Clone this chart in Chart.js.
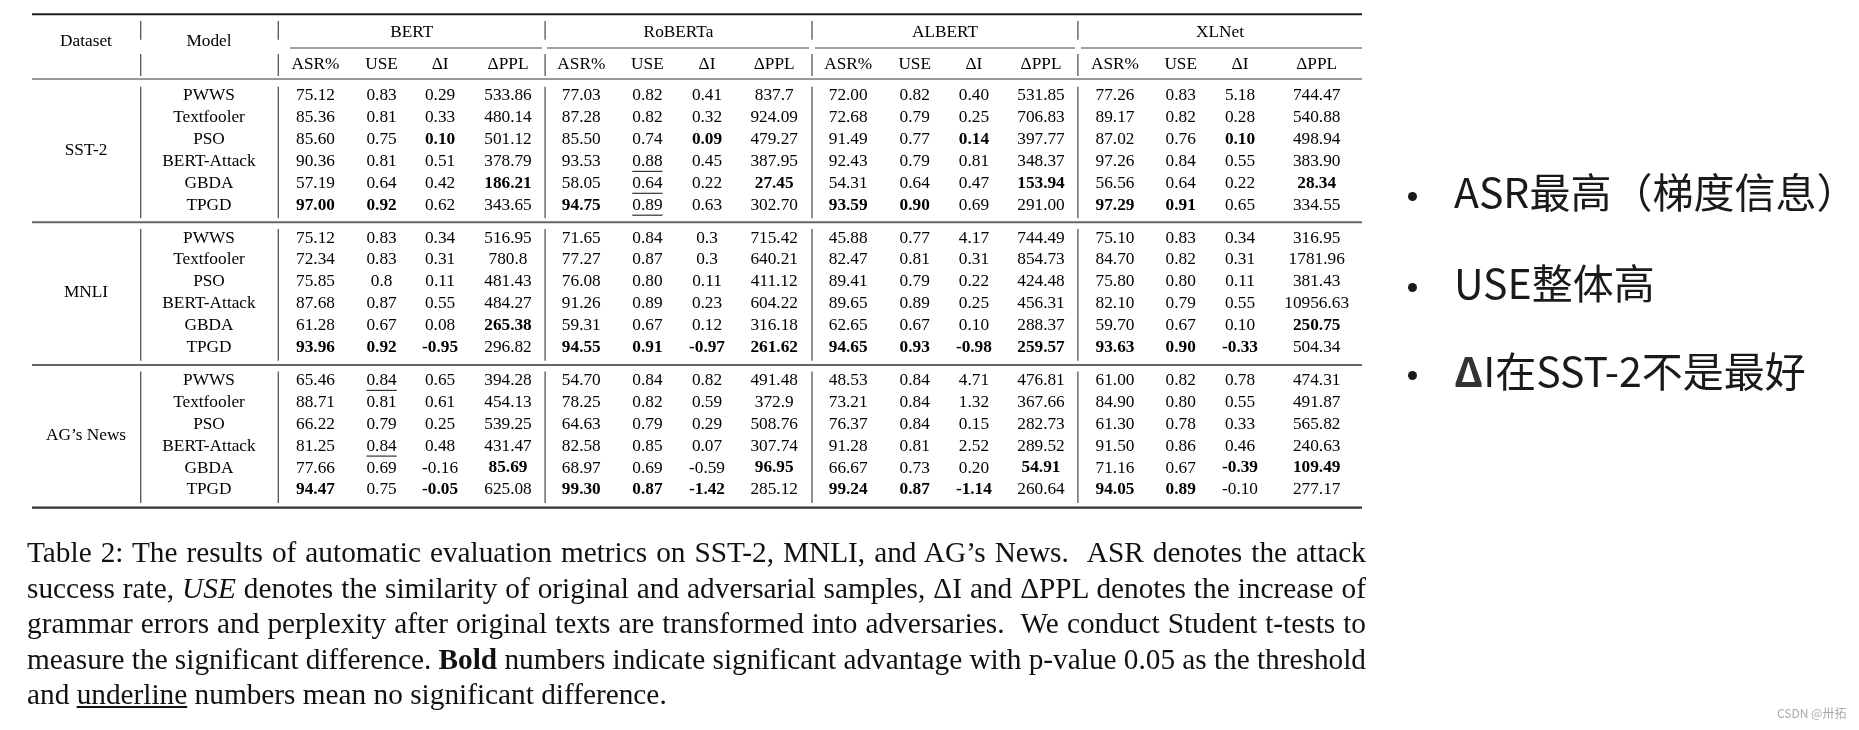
<!DOCTYPE html>
<html lang="en">
<head>
  <meta charset="UTF-8">
  <title>Table 2: automatic evaluation metrics</title>
  <script src="https://cdn.jsdelivr.net/npm/chart.js@4.4.1/dist/chart.umd.min.js"></script>
  <style>
    body { margin: 0; background: #fff; }
    #wrap { position: relative; width: 1859px; height: 730px; overflow: hidden; }
    #tableChart { position: absolute; left: 0; top: 0; }
    .caption {
      position: absolute; left: 27px; top: 535px; width: 1339px;
      font-family: "Liberation Serif", "Times New Roman", serif;
      font-size: 29.3px; line-height: 35.6px; color: #111;
    }
    .caption div { white-space: nowrap; height: 35.6px; }
    .note {
      position: absolute; left: 1454px; white-space: nowrap;
      font-family: "Noto Sans CJK SC", sans-serif; font-size: 41px; line-height: 41px; color: #1a1a1a;
    }
    .note b { color: #333; }
    .dot { position: absolute; left: 1408px; width: 9px; height: 9px; border-radius: 50%; background: #1a1a1a; }
    .mark {
      position: absolute; left: 1777px; top: 705px; white-space: nowrap;
      font-family: "Noto Sans CJK SC", sans-serif; font-size: 12px; line-height: 16px; color: #aaa;
    }
  </style>
</head>
<body>
<div id="wrap">
  <canvas id="tableChart" width="1859" height="730"></canvas>

  <div class="caption">
    <div class="just"><span>Table 2: The results of automatic evaluation metrics on SST-2, MNLI, and AG’s News. &nbsp;ASR denotes the attack</span></div>
    <div class="just"><span>success rate, <i>USE</i> denotes the similarity of original and adversarial samples, ΔI and ΔPPL denotes the increase of</span></div>
    <div class="just"><span>grammar errors and perplexity after original texts are transformed into adversaries. &nbsp;We conduct Student t-tests to</span></div>
    <div class="just"><span>measure the significant difference. <b>Bold</b> numbers indicate significant advantage with p-value 0.05 as the threshold</span></div>
    <div><span>and <u>underline</u> numbers mean no significant difference.</span></div>
  </div>

  <div class="dot" style="top:192px"></div>
  <div class="note" style="top:170px">ASR最高（梯度信息）</div>
  <div class="dot" style="top:283px"></div>
  <div class="note" style="top:261px">USE整体高</div>
  <div class="dot" style="top:371px"></div>
  <div class="note" style="top:349px"><b>Δ</b>I在SST-2不是最好</div>

  <div class="mark">CSDN @卅拓</div>
</div>

<script>
  // categories
  const datasetNames = ['SST-2', 'MNLI', 'AG’s News'];
  const models = ['PWWS', 'Textfooler', 'PSO', 'BERT-Attack', 'GBDA', 'TPGD'];
  const victims = ['BERT', 'RoBERTa', 'ALBERT', 'XLNet'];
  const metrics = ['ASR%', 'USE', 'ΔI', 'ΔPPL'];

  // values, one row per attack model: ASR%, USE, ΔI, ΔPPL (kept as printed)
  const sst2Bert    = [['75.12','0.83','0.29','533.86'], ['85.36','0.81','0.33','480.14'], ['85.60','0.75','0.10','501.12'],
                       ['90.36','0.81','0.51','378.79'], ['57.19','0.64','0.42','186.21'], ['97.00','0.92','0.62','343.65']];
  const sst2Roberta = [['77.03','0.82','0.41','837.7'],  ['87.28','0.82','0.32','924.09'], ['85.50','0.74','0.09','479.27'],
                       ['93.53','0.88','0.45','387.95'], ['58.05','0.64','0.22','27.45'],  ['94.75','0.89','0.63','302.70']];
  const sst2Albert  = [['72.00','0.82','0.40','531.85'], ['72.68','0.79','0.25','706.83'], ['91.49','0.77','0.14','397.77'],
                       ['92.43','0.79','0.81','348.37'], ['54.31','0.64','0.47','153.94'], ['93.59','0.90','0.69','291.00']];
  const sst2Xlnet   = [['77.26','0.83','5.18','744.47'], ['89.17','0.82','0.28','540.88'], ['87.02','0.76','0.10','498.94'],
                       ['97.26','0.84','0.55','383.90'], ['56.56','0.64','0.22','28.34'],  ['97.29','0.91','0.65','334.55']];

  const mnliBert    = [['75.12','0.83','0.34','516.95'], ['72.34','0.83','0.31','780.8'],  ['75.85','0.8','0.11','481.43'],
                       ['87.68','0.87','0.55','484.27'], ['61.28','0.67','0.08','265.38'], ['93.96','0.92','-0.95','296.82']];
  const mnliRoberta = [['71.65','0.84','0.3','715.42'],  ['77.27','0.87','0.3','640.21'],  ['76.08','0.80','0.11','411.12'],
                       ['91.26','0.89','0.23','604.22'], ['59.31','0.67','0.12','316.18'], ['94.55','0.91','-0.97','261.62']];
  const mnliAlbert  = [['45.88','0.77','4.17','744.49'], ['82.47','0.81','0.31','854.73'], ['89.41','0.79','0.22','424.48'],
                       ['89.65','0.89','0.25','456.31'], ['62.65','0.67','0.10','288.37'], ['94.65','0.93','-0.98','259.57']];
  const mnliXlnet   = [['75.10','0.83','0.34','316.95'], ['84.70','0.82','0.31','1781.96'], ['75.80','0.80','0.11','381.43'],
                       ['82.10','0.79','0.55','10956.63'], ['59.70','0.67','0.10','250.75'], ['93.63','0.90','-0.33','504.34']];

  const agBert      = [['65.46','0.84','0.65','394.28'], ['88.71','0.81','0.61','454.13'], ['66.22','0.79','0.25','539.25'],
                       ['81.25','0.84','0.48','431.47'], ['77.66','0.69','-0.16','85.69'], ['94.47','0.75','-0.05','625.08']];
  const agRoberta   = [['54.70','0.84','0.82','491.48'], ['78.25','0.82','0.59','372.9'],  ['64.63','0.79','0.29','508.76'],
                       ['82.58','0.85','0.07','307.74'], ['68.97','0.69','-0.59','96.95'], ['99.30','0.87','-1.42','285.12']];
  const agAlbert    = [['48.53','0.84','4.71','476.81'], ['73.21','0.84','1.32','367.66'], ['76.37','0.84','0.15','282.73'],
                       ['91.28','0.81','2.52','289.52'], ['66.67','0.73','0.20','54.91'],  ['99.24','0.87','-1.14','260.64']];
  const agXlnet     = [['61.00','0.82','0.78','474.31'], ['84.90','0.80','0.55','491.87'], ['61.30','0.78','0.33','565.82'],
                       ['91.50','0.86','0.46','240.63'], ['71.16','0.67','-0.39','109.49'], ['94.05','0.89','-0.10','277.17']];

  // significance marks: dataset|victim|model|metric
  const boldCells = [
    'SST-2|BERT|PSO|ΔI', 'SST-2|BERT|GBDA|ΔPPL', 'SST-2|BERT|TPGD|ASR%', 'SST-2|BERT|TPGD|USE',
    'SST-2|RoBERTa|PSO|ΔI', 'SST-2|RoBERTa|GBDA|ΔPPL', 'SST-2|RoBERTa|TPGD|ASR%',
    'SST-2|ALBERT|PSO|ΔI', 'SST-2|ALBERT|GBDA|ΔPPL', 'SST-2|ALBERT|TPGD|ASR%', 'SST-2|ALBERT|TPGD|USE',
    'SST-2|XLNet|PSO|ΔI', 'SST-2|XLNet|GBDA|ΔPPL', 'SST-2|XLNet|TPGD|ASR%', 'SST-2|XLNet|TPGD|USE',
    'MNLI|BERT|GBDA|ΔPPL', 'MNLI|BERT|TPGD|ASR%', 'MNLI|BERT|TPGD|USE', 'MNLI|BERT|TPGD|ΔI',
    'MNLI|RoBERTa|TPGD|ASR%', 'MNLI|RoBERTa|TPGD|USE', 'MNLI|RoBERTa|TPGD|ΔI', 'MNLI|RoBERTa|TPGD|ΔPPL',
    'MNLI|ALBERT|TPGD|ASR%', 'MNLI|ALBERT|TPGD|USE', 'MNLI|ALBERT|TPGD|ΔI', 'MNLI|ALBERT|TPGD|ΔPPL',
    'MNLI|XLNet|GBDA|ΔPPL', 'MNLI|XLNet|TPGD|ASR%', 'MNLI|XLNet|TPGD|USE', 'MNLI|XLNet|TPGD|ΔI',
    'AG’s News|BERT|GBDA|ΔPPL', 'AG’s News|BERT|TPGD|ASR%', 'AG’s News|BERT|TPGD|ΔI',
    'AG’s News|RoBERTa|GBDA|ΔPPL', 'AG’s News|RoBERTa|TPGD|ASR%', 'AG’s News|RoBERTa|TPGD|USE', 'AG’s News|RoBERTa|TPGD|ΔI',
    'AG’s News|ALBERT|GBDA|ΔPPL', 'AG’s News|ALBERT|TPGD|ASR%', 'AG’s News|ALBERT|TPGD|USE', 'AG’s News|ALBERT|TPGD|ΔI',
    'AG’s News|XLNet|GBDA|ΔI', 'AG’s News|XLNet|GBDA|ΔPPL', 'AG’s News|XLNet|TPGD|ASR%', 'AG’s News|XLNet|TPGD|USE'
  ];
  const underlineCells = [
    'SST-2|RoBERTa|BERT-Attack|USE', 'SST-2|RoBERTa|GBDA|USE', 'SST-2|RoBERTa|TPGD|USE',
    'AG’s News|BERT|PWWS|USE', 'AG’s News|BERT|BERT-Attack|USE'
  ];

  const tables = [
    [sst2Bert, sst2Roberta, sst2Albert, sst2Xlnet],
    [mnliBert, mnliRoberta, mnliAlbert, mnliXlnet],
    [agBert, agRoberta, agAlbert, agXlnet]
  ];

  // layout: x in page pixels, y in table rows
  const ROW_H = 21.9, FIRST_ROW_PX = 95.7, GROUP_STEP = 6.5;
  const FONT = '"Liberation Serif", "Times New Roman", serif';
  const FONT_SIZE = 17.3;
  const datasetX = 86, modelX = 209;
  const metricX = [[315.5, 381.6, 440.1, 508], [581.3, 647.4, 707, 774.2],
                   [848.2, 914.7, 973.9, 1041], [1115, 1180.7, 1240, 1316.7]];
  const victimX = [411.7, 678.5, 945, 1220];
  const vLineX = [140.7, 278.3, 545.1, 812, 1077.9];
  const ruleL = 32, ruleR = 1362;

  // text cells
  const headText = [
    { x: datasetX, y: -2.47, t: 'Dataset' },
    { x: modelX, y: -2.47, t: 'Model' }
  ];
  victims.forEach((v, i) => {
    headText.push({ x: victimX[i], y: -2.91, t: v });
    metrics.forEach((m, j) => headText.push({ x: metricX[i][j], y: -1.42, t: m }));
  });

  const bodyText = [];
  datasetNames.forEach((ds, g) => {
    const base = g * GROUP_STEP;
    bodyText.push({ x: datasetX, y: base + 2.5, t: ds });
    models.forEach((md, k) => {
      bodyText.push({ x: modelX, y: base + k, t: md });
      victims.forEach((vc, v) => {
        metrics.forEach((mt, m) => {
          const key = [ds, vc, md, mt].join('|');
          bodyText.push({
            x: metricX[v][m], y: base + k, t: tables[g][v][k][m],
            bold: boldCells.includes(key), ul: underlineCells.includes(key)
          });
        });
      });
    });
  });

  // rules
  function rule(x1, x2, y, w, color) {
    return { type: 'scatter', showLine: true, data: [{ x: x1, y: y }, { x: x2, y: y }],
             borderColor: color, borderWidth: w, pointRadius: 0, pointHoverRadius: 0 };
  }
  function vrule(x, y1, y2) {
    return { type: 'scatter', showLine: true, data: [{ x: x, y: y1 }, { x: x, y: y2 }],
             borderColor: '#555', borderWidth: 1.3, pointRadius: 0, pointHoverRadius: 0 };
  }
  const ruleSets = [
    rule(ruleL, ruleR, -3.72, 2.2, '#1e1e1e'),
    rule(290, 542, -2.18, 1.1, '#444'),
    rule(547, 809, -2.18, 1.1, '#444'),
    rule(815, 1075, -2.18, 1.1, '#444'),
    rule(1081, ruleR, -2.18, 1.1, '#444'),
    rule(ruleL, ruleR, -0.76, 1.4, '#777'),
    rule(ruleL, ruleR, 5.78, 2, '#666'),
    rule(ruleL, ruleR, 12.30, 2, '#666'),
    rule(ruleL, ruleR, 18.81, 2.2, '#333')
  ];
  vLineX.forEach(x => {
    ruleSets.push(vrule(x, -3.41, -2.55));
    ruleSets.push(vrule(x, -1.90, -0.90));
    datasetNames.forEach((_, g) => ruleSets.push(vrule(x, g * GROUP_STEP - 0.41, g * GROUP_STEP + 5.6)));
  });

  const cellText = {
    id: 'cellText',
    afterDatasetsDraw(chart) {
      const ctx = chart.ctx;
      chart.data.datasets.forEach((ds, i) => {
        if (!ds.isText) return;
        const meta = chart.getDatasetMeta(i);
        meta.data.forEach((pt, j) => {
          const d = ds.data[j];
          ctx.save();
          ctx.font = (d.bold ? 'bold ' : '') + FONT_SIZE + 'px ' + FONT;
          ctx.fillStyle = '#000';
          ctx.textAlign = 'center';
          ctx.textBaseline = 'middle';
          ctx.fillText(d.t, pt.x, pt.y);
          if (d.ul) {
            const w = ctx.measureText(d.t).width;
            ctx.strokeStyle = '#333';
            ctx.lineWidth = 1.2;
            ctx.beginPath();
            ctx.moveTo(pt.x - w / 2, pt.y + 10);
            ctx.lineTo(pt.x + w / 2, pt.y + 10);
            ctx.stroke();
          }
          ctx.restore();
        });
      });
    }
  };

  const ctx = document.getElementById('tableChart').getContext('2d');
  new Chart(ctx, {
    type: 'scatter',
    data: {
      datasets: [
        ...ruleSets,
        { isText: true, data: headText, pointRadius: 0, pointHoverRadius: 0 },
        { isText: true, data: bodyText, pointRadius: 0, pointHoverRadius: 0 }
      ]
    },
    options: {
      responsive: false,
      animation: false,
      events: [],
      layout: { padding: 0 },
      plugins: { legend: { display: false }, tooltip: { enabled: false } },
      scales: {
        x: { type: 'linear', display: false, min: 0, max: 1859 },
        y: { type: 'linear', display: false, reverse: true,
             min: -FIRST_ROW_PX / ROW_H, max: (730 - FIRST_ROW_PX) / ROW_H }
      }
    },
    plugins: [cellText]
  });

  // justify caption lines to the table width, like LaTeX does
  function justifyCaption() {
    const target = 1339;
    document.querySelectorAll('.caption .just').forEach(div => {
      div.style.wordSpacing = '0px';
      const span = div.firstElementChild;
      const w = span.getBoundingClientRect().width;
      const gaps = (span.textContent.match(/[ \u00a0]/g) || []).length;
      if (gaps) div.style.wordSpacing = ((target - w) / gaps) + 'px';
    });
  }
  justifyCaption();
  if (document.fonts) document.fonts.ready.then(justifyCaption);
</script>
</body>
</html>
